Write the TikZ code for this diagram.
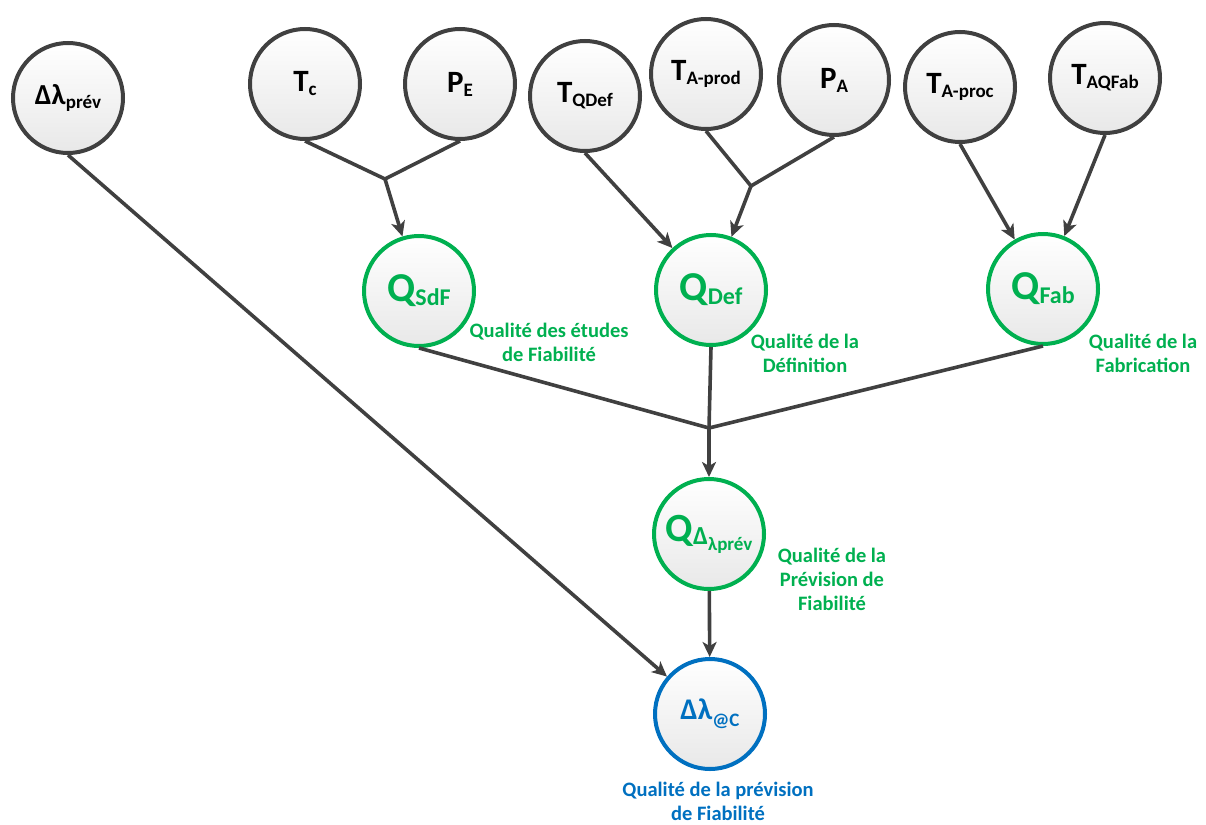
\documentclass[tikz,border=0pt]{standalone}
\usepackage{fontspec}
\setmainfont{Carlito}
\usetikzlibrary{arrows.meta}
\definecolor{gris}{HTML}{404040}
\definecolor{vertQ}{HTML}{00B050}
\definecolor{bleuP}{HTML}{0070C0}
\newcommand{\ind}[2][19]{\raisebox{-4pt}{\fontsize{#1}{#1}\selectfont #2}}
\tikzset{
  noeud/.style={circle, draw=#1, text=#1, line width=4pt, top color=white, bottom color=black!9,
                minimum size=110pt, inner sep=0pt, font=\bfseries\fontsize{31}{31}\selectfont},
  haut/.style={noeud=gris, text=black},
  legende/.style={align=center, text=#1, inner sep=0pt, font=\bfseries\fontsize{20.5}{24}\selectfont},
  lien/.style={line width=3.6pt, draw=gris},
  arr/.style={lien, -{Stealth[length=15pt,width=14pt,inset=4pt]}},
}
\begin{document}
\begin{tikzpicture}[x=1pt,y=-1pt]
    \useasboundingbox (0,0) rectangle (1206,824);
    % entrees
    \node[haut, font=\bfseries\fontsize{29}{29}\selectfont] (dprev) at (68,98) {Δλ\ind{prév}};
    \node[haut] (tc) at (305,84) {T\ind{c}};
    \node[haut] (pe) at (460,84) {P\ind{E}};
    \node[haut] (tqdef) at (585,96) {T\ind{QDef}};
    \node[haut] (taprod) at (706,74) {T\ind{A-prod}};
    \node[haut] (pa) at (834,80) {P\ind{A}};
    \node[haut] (taproc) at (960,87) {T\ind{A-proc}};
    \node[haut] (taqfab) at (1105,78) {T\ind{AQFab}};
    % qualites
    \node[noeud=vertQ, font=\bfseries\fontsize{41}{41}\selectfont] (qsdf) at (419,291) {Q\ind[24]{SdF}};
    \node[noeud=vertQ, font=\bfseries\fontsize{41}{41}\selectfont] (qdef) at (711,290) {Q\ind[24]{Def}};
    \node[noeud=vertQ, font=\bfseries\fontsize{41}{41}\selectfont] (qfab) at (1043,289) {Q\ind[24]{Fab}};
    \node[noeud=vertQ, font=\bfseries\fontsize{40}{40}\selectfont] (qdelta) at (709,534)
        {Q{\fontsize{26}{26}\selectfont\raisebox{-3pt}{Δ}}\raisebox{-5pt}{\ind[19]{λprév}}};
    \node[noeud=bleuP, font=\bfseries\fontsize{30}{30}\selectfont] (dlc) at (710,714) {Δλ\raisebox{-3pt}{\ind[19]{@C}}};
    % legendes
    \node[legende=vertQ] (lsdf) at (549,342) {Qualité des études\\de Fiabilité};
    \node[legende=vertQ] (ldef) at (805,353) {Qualité de la\\Définition};
    \node[legende=vertQ] (lfab) at (1143,353) {Qualité de la\\Fabrication};
    \node[legende=vertQ] (lqd) at (832,579) {Qualité de la\\Prévision de\\Fiabilité};
    \node[legende=bleuP] (ldlc) at (718,801) {Qualité de la prévision\\de Fiabilité};
    % jonctions
    \coordinate (j1) at (385,179);
    \coordinate (j2) at (751,186);
    \coordinate (j3) at (709,428);
    \draw[lien] (tc.south) -- (j1); \draw[lien] (pe.south) -- (j1);
    \draw[arr] (j1) -- (qsdf);
    \draw[arr] (tqdef.south) -- (qdef);
    \draw[lien] (taprod.south) -- (j2); \draw[lien] (pa.south) -- (j2);
    \draw[arr] (j2) -- (qdef);
    \draw[arr] (taproc.south) -- (qfab); \draw[arr] (taqfab.south) -- (qfab);
    \draw[lien] (qsdf.south) -- (j3); \draw[lien] (qdef.south) -- (j3); \draw[lien] (qfab.south) -- (j3);
    \draw[arr] (j3) -- (qdelta);
    \draw[arr] (qdelta) -- (dlc);
    \draw[arr] (dprev.south) -- (dlc);
  \end{tikzpicture}
\end{document}
